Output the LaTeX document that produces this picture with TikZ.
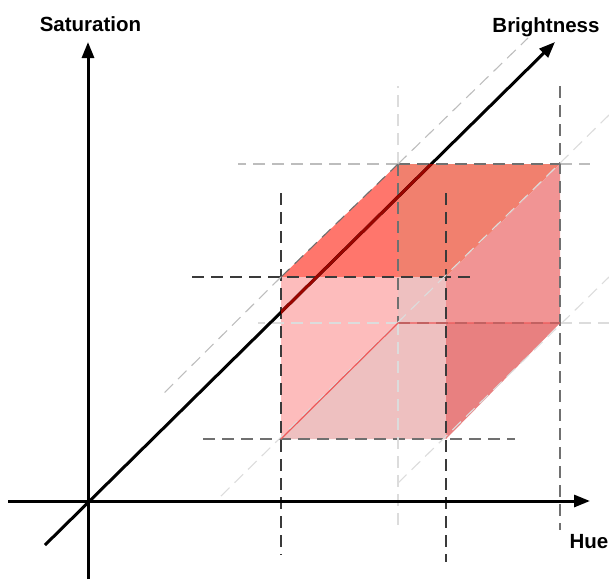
\documentclass[tikz,border=0pt]{standalone}
\usepackage{fontspec}
\setmainfont{Liberation Sans}
\usetikzlibrary{arrows.meta, calc}
\definecolor{TopNear}{HTML}{FF766C}
\definecolor{TopFar}{HTML}{F1806E}
\definecolor{FrontNear}{HTML}{FDBCBC}
\definecolor{FrontFar}{HTML}{EEC0C0}
\definecolor{SideUp}{HTML}{F19494}
\definecolor{SideLow}{HTML}{E88080}
\definecolor{EdgeRed}{HTML}{EE5A5A}
\definecolor{AxisRed}{HTML}{9A0500}
\definecolor{GuideDark}{HTML}{3A3A3A}
\definecolor{GuideMid}{HTML}{707070}
\definecolor{GuideLight}{HTML}{BDBDBD}
\definecolor{GuideFaint}{HTML}{DCDCDC}

\begin{document}
\begin{tikzpicture}[
    x=1pt, y=-1pt,
    axis/.style={line width=3pt, -{Triangle[length=16pt, width=12pt]}},
    guide/.style={line width=1.1pt, dash pattern=on 12pt off 7pt},
    hidden/.style={line width=1.2pt, EdgeRed},
    lbl/.style={font=\fontsize{20.5}{24}\selectfont\bfseries, anchor=base, inner sep=0pt}
]

\useasboundingbox (0,0) rectangle (609,579);

% =============================================
% Cube corners (front A B C D, back E F G H)
% =============================================
\coordinate (A) at (281,277);
\coordinate (B) at (446,277);
\coordinate (C) at (446,439);
\coordinate (D) at (281,439);
\coordinate (E) at (398,164);
\coordinate (F) at (560,164);
\coordinate (G) at (560,323);
\coordinate (H) at (398,323);
\coordinate (P) at (398,277);
\coordinate (Q) at (446,323);

% =============================================
% Faces
% =============================================
\fill[TopNear] (A) -- (E) -- (P) -- cycle;
\fill[TopFar] (P) -- (E) -- (F) -- (B) -- cycle;
\fill[FrontNear] (A) -- (P) -- (H) -- (D) -- cycle;
\fill[FrontFar] (P) -- (B) -- (C) -- (D) -- (H) -- cycle;
\fill[SideUp] (B) -- (F) -- (G) -- (Q) -- cycle;
\fill[SideLow] (Q) -- (G) -- (C) -- cycle;

% =============================================
% Guide lines
% =============================================
% horizontal
\draw[guide, GuideLight] (E) -- ++(-160,0);
\draw[guide, GuideMid] (E) -- (F);
\draw[guide, GuideLight] (F) -- ++(30,0);
\draw[guide, GuideDark] ($(A)+(-89,0)$) -- ($(B)+(31,0)$);
\draw[guide, GuideFaint] (H) -- ++(-140,0);
\draw[guide, GuideMid] (H) -- (G);
\draw[guide, GuideFaint] (G) -- ++(49,0);
\draw[guide, GuideMid] ($(D)+(-78,0)$) -- ($(C)+(69,0)$);

% vertical
\draw[guide, GuideDark] ($(A)+(0,-84)$) -- ($(D)+(0,116)$);
\draw[guide, GuideFaint] (E) -- ++(0,-78);
\draw[guide, GuideMid] (E) -- (H);
\draw[guide, GuideFaint] (H) -- ++(0,207);
\draw[guide, GuideDark] ($(B)+(0,-84)$) -- ($(C)+(0,123)$);
\draw[guide, GuideMid] ($(F)+(0,-78)$) -- ($(G)+(0,207)$);

% diagonal
\draw[guide, GuideLight] (A) -- ($(A)+(-118,117)$);
\draw[guide, GuideMid] (A) -- (E);
\draw[guide, GuideLight] (E) -- ($(E)+(130,-126)$);
\draw[guide, GuideFaint] ($(D)+(-60,57)$) -- ($(F)+(49,-49)$);
\draw[guide, GuideFaint] ($(C)+(-48,44)$) -- ($(G)+(49,-46)$);

% hidden edges
\draw[hidden] (D) -- (H) -- (G);

% =============================================
% Axes
% =============================================
\coordinate (O) at (88,501);
\draw[axis] (88,579) -- (88,42) coordinate (satTip);
\draw[axis] (8,501) -- (590,501) coordinate (hueTip);
\draw[axis] (45,545) -- (555,42) coordinate (briTip);

% Brightness axis seen through the cube
\begin{scope}
    \clip (A) -- (E) -- (F) -- (G) -- (C) -- (D) -- cycle;
    \draw[line width=3pt, AxisRed] (45,545) -- (555,42);
\end{scope}

% =============================================
% Labels
% =============================================
\node[lbl] (sat) at (90.5,31.5) {Saturation};
\node[lbl] (bri) at (546,32.5) {Brightness};
\node[lbl] (hue) at (589,548) {Hue};

\end{tikzpicture}
\end{document}
